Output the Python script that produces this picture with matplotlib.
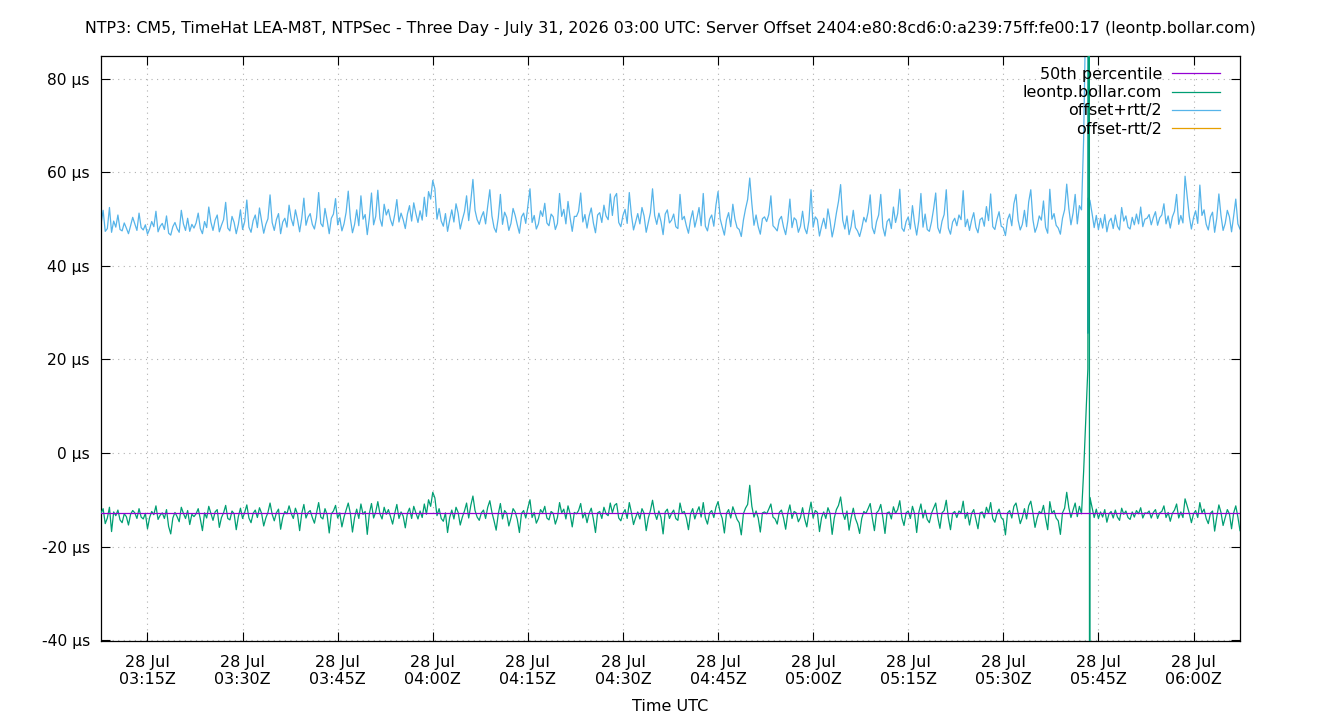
import numpy as np
import matplotlib
matplotlib.use("Agg")
import matplotlib.pyplot as plt
import matplotlib.dates as mdates
from matplotlib.ticker import FixedLocator, FuncFormatter
from datetime import datetime, timedelta

TITLE = ("NTP3: CM5, TimeHat LEA-M8T, NTPSec - Three Day - July 31, 2026 03:00 UTC: "
         "Server Offset 2404:e80:8cd6:0:a239:75ff:fe00:17 (leontp.bollar.com)")
X_LABEL = "Time UTC"
SERIES_LABELS = ["50th percentile", "leontp.bollar.com", "offset+rtt/2", "offset-rtt/2"]
COLORS = ["#9400d3", "#009e73", "#56b4e9", "#e69f00"]

START = datetime(2026, 7, 28, 3, 7, 40)
STEP_S = 20

# offset (µs), 20 s samples, in 15-minute blocks
offset_blocks = [
    [-12.9,-11.9,-15.1,-13.9,-11.6,-16.8,-12.6,-13.4,-12.2,-14.3,-14.9,-13.0,-13.6,-15.4,-13.1,-12.3,-12.8,-14.0,-11.9,-13.7,-14.1,-12.9,-16.2,-13.8,-12.5,-13.2,-11.3,-14.2,-13.3,-12.8,-14.0,-12.1,-15.7,-17.3,-13.9,-12.7,-13.6,-14.7,-11.6,-12.9,-14.0,-12.3,-15.3,-13.1,-13.6],
    [-13.0,-11.9,-14.1,-16.6,-12.8,-13.9,-11.4,-12.9,-14.4,-12.6,-12.1,-15.9,-13.8,-12.8,-11.2,-14.0,-14.3,-12.4,-13.0,-16.4,-13.6,-11.8,-14.0,-12.7,-11.1,-13.9,-14.9,-12.9,-12.2,-13.8,-11.7,-12.9,-15.6,-13.9,-12.7,-10.7,-13.1,-14.5,-12.8,-12.0,-16.3,-13.8,-12.5,-13.0,-11.3],
    [-12.9,-14.0,-11.8,-13.1,-16.6,-12.9,-11.0,-13.9,-12.7,-12.3,-13.8,-15.0,-12.8,-10.6,-13.7,-14.1,-11.9,-13.2,-17.1,-13.0,-12.4,-11.2,-13.9,-12.8,-15.8,-13.7,-12.2,-10.7,-12.9,-16.9,-13.8,-12.0,-14.0,-10.9,-13.1,-12.5,-17.4,-12.9,-10.8,-13.9,-12.6,-10.4,-13.0,-14.1,-11.6],
    [-13.1,-12.1,-13.6,-15.2,-12.9,-11.0,-14.0,-12.6,-13.5,-16.0,-12.9,-11.8,-14.0,-11.4,-12.8,-14.1,-12.4,-13.8,-10.9,-13.1,-10.0,-11.4,-8.4,-9.6,-13.4,-11.9,-14.0,-14.6,-12.8,-17.0,-13.8,-12.2,-14.1,-11.6,-12.7,-15.4,-13.7,-12.4,-10.7,-13.9,-11.2,-9.2,-12.3,-13.7,-14.4],
    [-12.8,-12.2,-14.0,-11.6,-10.2,-12.7,-14.5,-16.5,-13.0,-10.8,-14.1,-12.3,-12.9,-15.6,-13.9,-11.9,-12.6,-14.2,-17.0,-12.9,-12.3,-13.9,-11.7,-10.0,-13.8,-12.7,-15.0,-14.0,-12.1,-12.8,-11.4,-13.9,-14.3,-12.5,-12.9,-15.2,-13.8,-10.6,-12.8,-12.0,-14.1,-11.3,-13.0,-15.8,-12.7],
    [-13.0,-12.3,-10.8,-13.9,-12.7,-14.9,-12.9,-11.8,-14.1,-17.0,-12.8,-12.5,-14.0,-11.6,-13.0,-13.4,-10.7,-12.8,-11.2,-10.8,-13.9,-14.5,-12.9,-12.1,-14.0,-10.6,-12.7,-15.3,-13.8,-12.6,-14.1,-11.9,-12.9,-16.6,-13.9,-12.3,-10.1,-12.8,-14.2,-12.4,-13.8,-17.3,-12.6,-12.0,-14.0],
    [-12.9,-12.2,-14.0,-14.4,-10.7,-12.8,-12.5,-13.9,-16.4,-13.0,-11.9,-14.1,-12.6,-11.5,-13.7,-10.6,-13.9,-15.2,-12.8,-12.3,-13.8,-11.6,-10.4,-12.7,-14.0,-17.1,-12.9,-12.1,-13.9,-11.5,-12.8,-14.2,-14.9,-17.5,-13.0,-11.8,-11.0,-6.9,-11.4,-13.7,-12.4,-13.9,-16.9,-12.8,-12.6],
    [-13.0,-12.0,-10.9,-13.7,-14.1,-15.2,-12.7,-12.2,-13.9,-16.3,-12.9,-11.1,-14.0,-12.5,-12.8,-14.7,-13.8,-11.7,-14.1,-15.8,-12.8,-10.5,-13.9,-12.3,-12.7,-16.8,-13.8,-12.6,-14.0,-11.7,-12.9,-17.4,-13.9,-12.1,-11.2,-9.4,-12.8,-14.2,-12.4,-16.5,-13.8,-11.8,-14.0,-15.2,-17.2],
    [-14.0,-12.5,-12.9,-11.9,-10.8,-13.9,-16.6,-12.8,-12.3,-11.0,-13.8,-17.2,-12.8,-12.6,-14.1,-11.5,-12.9,-12.1,-10.2,-13.9,-15.5,-12.8,-12.4,-14.0,-11.4,-13.0,-17.0,-12.7,-10.9,-13.9,-12.2,-14.2,-14.9,-12.9,-11.8,-10.7,-13.8,-16.1,-12.8,-12.3,-10.1,-13.9,-16.4,-12.9,-12.5],
    [-13.8,-12.4,-12.8,-10.3,-14.0,-12.7,-15.4,-12.9,-12.1,-14.1,-16.2,-12.8,-12.6,-13.9,-11.6,-12.9,-10.6,-14.0,-14.8,-12.9,-12.0,-13.8,-14.3,-17.5,-12.8,-12.3,-13.9,-11.4,-10.7,-12.9,-15.1,-13.8,-11.9,-14.1,-11.3,-10.3,-12.8,-15.9,-13.9,-12.5,-12.9,-11.2,-14.0,-16.4,-10.4],
    [-12.9,-12.3,-13.9,-14.5,-17.4,-12.8,-11.8,-8.4,-11.7,-13.8,-12.2,-10.7,-13.6,-11.4,-13.0,-4.0,7.0,18.0,-9.5,-11.6,-13.8,-12.0,-14.0,-12.6,-13.7,-12.1,-14.8,-13.0,-12.5,-13.9,-12.2,-13.7,-14.4,-11.8,-13.1,-12.4,-13.8,-14.2,-12.6,-13.7,-12.3,-13.0,-11.7,-13.9,-12.8],
    [-12.9,-12.4,-13.9,-12.7,-12.1,-14.0,-12.8,-12.5,-11.3,-13.8,-12.7,-14.6,-12.9,-12.2,-10.9,-13.9,-12.6,-13.8,-9.8,-11.3,-12.9,-14.9,-13.0,-12.3,-13.8,-10.6,-12.8,-12.0,-14.0,-15.1,-12.9,-12.4,-16.7,-13.7,-11.1,-12.7,-15.5,-13.8,-12.1,-13.0,-16.2,-12.8,-11.3,-13.7,-16.6],
]

# offset + rtt/2 (µs), same samples
upper_blocks = [
    [48.9,51.9,47.4,48.0,52.5,47.2,49.6,48.3,50.9,47.8,47.5,49.2,48.1,46.9,48.6,50.4,49.0,47.6,51.3,48.2,47.7,48.8,46.8,47.9,49.5,48.4,51.7,47.3,48.5,49.1,47.8,50.7,47.0,46.6,48.4,49.3,48.0,47.2,51.9,49.0,47.6,50.2,47.4,48.9,48.1],
    [49.2,51.3,48.0,46.9,49.5,48.2,52.6,49.4,47.6,49.8,50.9,47.3,48.7,49.9,53.6,48.1,47.5,50.6,49.3,46.9,48.9,52.0,47.8,49.5,54.1,48.3,47.2,49.7,50.9,48.2,52.4,49.6,47.0,48.9,50.1,55.2,49.3,47.6,49.9,51.2,46.9,49.4,50.2,48.3,53.0],
    [50.1,48.6,52.0,49.9,47.3,50.2,54.5,48.7,50.4,51.2,48.9,47.9,50.3,55.7,49.1,48.4,52.3,49.8,46.9,50.2,51.1,54.4,48.8,50.3,47.5,49.0,51.5,56.0,50.2,47.1,48.9,52.0,48.6,55.0,50.0,51.0,46.7,50.3,55.6,48.8,50.6,56.2,50.1,48.5,53.2],
    [50.9,52.1,49.9,48.6,51.0,54.2,49.4,51.3,49.9,48.0,51.1,52.9,49.6,53.5,51.2,49.3,51.8,49.8,54.7,50.6,55.9,54.3,58.3,56.5,50.0,52.3,49.6,48.5,51.2,47.4,49.8,52.0,49.4,53.3,51.3,47.9,49.9,51.6,55.0,49.7,53.9,58.5,51.9,49.9,48.9],
    [50.5,51.6,49.0,52.8,56.3,50.7,48.2,47.2,50.3,55.3,48.9,51.5,50.4,47.6,49.1,52.3,50.8,48.8,47.0,50.5,51.3,49.1,52.8,56.5,49.3,50.8,47.9,49.0,51.8,50.6,53.4,49.2,48.6,51.1,50.5,47.8,49.1,55.5,50.6,52.1,49.0,53.8,50.3,47.4,50.6],
    [50.6,51.7,55.6,49.4,51.0,48.1,50.7,52.4,49.2,47.1,50.9,51.4,49.3,53.0,50.7,49.9,55.4,50.8,54.7,55.5,49.3,48.4,50.8,52.1,49.1,55.7,50.9,47.7,49.4,51.2,49.0,52.5,50.7,47.2,49.3,51.4,56.5,50.8,48.9,51.3,49.5,46.7,51.1,52.0,49.2],
    [49.8,51.1,48.4,48.0,55.3,49.9,50.6,48.6,47.0,49.9,51.8,48.3,50.2,52.5,48.6,55.5,48.5,47.5,50.0,50.9,48.5,53.0,55.9,50.1,48.3,46.6,49.9,51.4,48.4,53.2,50.0,48.2,47.8,46.3,49.8,52.2,54.2,58.8,53.3,48.7,50.9,48.4,46.8,50.1,50.5],
    [49.5,51.0,55.0,48.6,48.1,47.5,49.9,50.6,48.3,46.7,49.6,54.3,48.2,50.3,49.8,47.2,48.5,51.7,48.1,46.9,49.7,56.3,48.3,50.5,49.9,46.4,48.5,50.2,48.0,52.2,49.7,46.2,48.4,51.3,53.8,57.4,49.8,47.9,50.7,46.7,48.5,51.9,48.2,47.5,46.3],
    [48.1,50.4,49.4,51.5,55.2,48.2,46.9,49.5,50.9,55.3,48.3,46.4,49.5,50.1,48.0,52.6,49.3,51.2,56.4,48.1,47.4,49.5,50.5,47.9,52.9,49.2,46.6,49.7,55.5,48.3,51.1,47.8,47.4,49.4,52.2,55.6,48.2,47.0,49.6,51.0,56.3,48.1,46.8,49.4,50.2],
    [48.6,50.9,49.9,56.1,48.4,50.0,47.6,49.8,51.4,48.3,47.1,49.9,50.3,48.5,52.7,49.7,55.4,48.4,47.8,50.0,51.6,48.5,48.2,46.5,49.9,51.1,48.6,53.3,55.3,49.8,47.7,48.9,51.9,48.4,53.7,56.3,49.9,47.2,48.5,50.7,49.8,53.9,48.3,47.0,56.4],
    [50.0,51.2,48.7,48.1,46.8,50.2,52.0,57.5,52.3,48.8,51.3,55.3,49.0,52.9,52.0,67.0,95.0,200.0,54.0,51.2,48.2,50.8,47.8,50.2,48.1,51.0,47.3,49.5,50.2,48.0,50.9,48.5,47.7,52.5,49.6,50.7,48.3,47.9,50.4,48.8,51.1,49.0,52.6,48.4,50.0],
    [50.2,51.0,48.8,50.4,51.6,48.7,50.3,50.9,53.3,49.0,50.7,48.1,50.5,51.7,55.3,48.9,50.8,49.2,59.2,54.8,50.6,47.9,50.3,51.8,49.1,57.3,50.8,52.0,48.9,47.7,50.5,51.5,47.2,50.2,55.4,50.8,47.6,49.1,51.9,50.5,47.3,50.7,54.3,49.0,47.9],
]

# extra samples during the disturbance (seconds after START, value µs)
spike_offset_t = [9353, 9357]
spike_offset_v = [300.0, -300.0]
spike_upper_t = [9341, 9344]
spike_upper_v = [25.6, 54.5]

for i, (a, b) in enumerate(zip(offset_blocks, upper_blocks)):
    assert len(a) == 45 and len(b) == 45, (i, len(a), len(b))

offset = np.concatenate([np.array(b) for b in offset_blocks])
upper = np.concatenate([np.array(b) for b in upper_blocks])
lower = 2 * offset - upper  # offset - rtt/2

t_sec = np.arange(len(offset)) * STEP_S

def merge(ts, vs, ets, evs):
    tt = np.concatenate([ts, np.array(ets, float)])
    vv = np.concatenate([vs, np.array(evs, float)])
    o = np.argsort(tt, kind="stable")
    return tt[o], vv[o]

to_dt = lambda s: [START + timedelta(seconds=float(x)) for x in s]

t_off, v_off = merge(t_sec, offset, spike_offset_t, spike_offset_v)
t_up, v_up = merge(t_sec, upper, spike_upper_t, spike_upper_v)
median = np.median(offset)

FS = 11.5
fig = plt.figure(figsize=(13.4, 7.2), dpi=100)
ax = fig.add_axes([101/1340, 1-641/720, (1240-101)/1340, (641-56)/720])

times = to_dt(t_sec)
lw = 0.9
ax.plot([times[0], times[-1]], [median, median], color=COLORS[0], lw=lw,
        label=SERIES_LABELS[0], zorder=5)
ax.plot(to_dt(t_off), v_off, color=COLORS[1], lw=lw, label=SERIES_LABELS[1], zorder=3)
ax.plot(to_dt(t_up), v_up, color=COLORS[2], lw=lw, label=SERIES_LABELS[2], zorder=2)
ax.plot(times, lower, color=COLORS[3], lw=lw, label=SERIES_LABELS[3], zorder=2)

ax.set_xlim(times[0], times[-1])
ax.set_ylim(-40.2, 84.9)

yt = [-40, -20, 0, 20, 40, 60, 80]
ax.yaxis.set_major_locator(FixedLocator(yt))
ax.yaxis.set_major_formatter(FuncFormatter(lambda v, p: f"{int(round(v))} µs"))

xt = [datetime(2026, 7, 28, 3, 15) + timedelta(minutes=15*i) for i in range(12)]
ax.xaxis.set_major_locator(FixedLocator(mdates.date2num(xt)))
ax.xaxis.set_major_formatter(mdates.DateFormatter("%d %b\n%H:%MZ"))

ax.tick_params(axis="both", which="major", direction="in", length=6.5, width=0.8,
               top=True, right=True, color="black")
ax.tick_params(axis="y", pad=8, labelsize=11.2)
ax.tick_params(axis="x", pad=10, labelsize=FS)
for lab in ax.get_xticklabels():
    lab.set_linespacing(1.15)

ax.grid(True, color="#b0b0b0", linestyle=(0, (1, 4)), linewidth=0.8)
for s in ax.spines.values():
    s.set_linewidth(0.9)
    s.set_color("black")

ax.set_xlabel(X_LABEL, fontsize=FS, labelpad=9)
fig.suptitle(TITLE, fontsize=11.4, y=1-29/720, va="center")

leg = ax.legend(loc="upper right", bbox_to_anchor=((1220-101)/1139, (641-67)/585),
                frameon=False, markerfirst=False, fontsize=FS,
                handlelength=3.0, handletextpad=0.62, labelspacing=0.2,
                borderaxespad=0.0, borderpad=0.0)

fig.savefig("out.png", dpi=100)
